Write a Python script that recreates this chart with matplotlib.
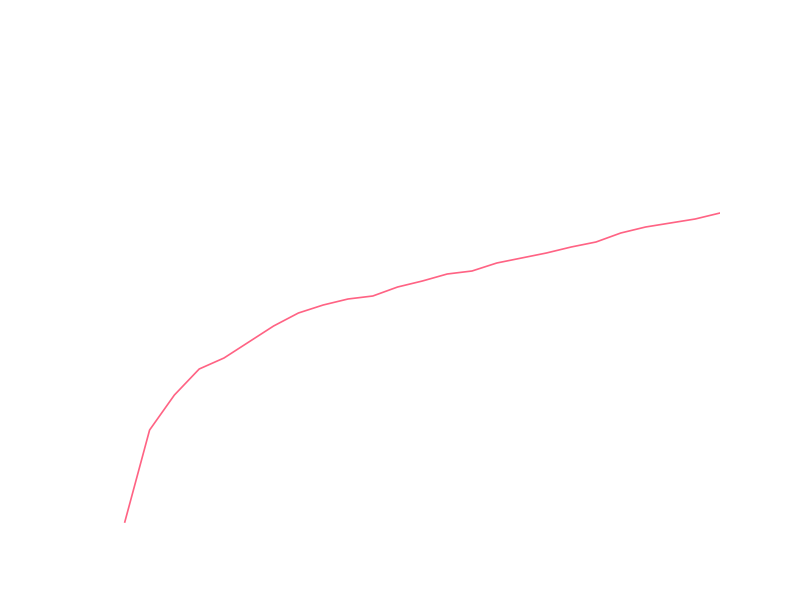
import matplotlib
matplotlib.use("Agg")
import matplotlib.pyplot as plt

steps = list(range(25))
values = [78, 170, 205, 231, 242, 258, 274, 287, 295, 301, 304, 313, 319,
          326, 329, 337, 342, 347, 353, 358, 367, 373, 377, 381, 387]

fig = plt.figure(figsize=(8, 6), dpi=100)
ax = fig.add_axes([100 / 800, 0, 620 / 800, 1])
ax.plot(steps, values, color="#ff6384", linewidth=1.2)
ax.set_xlim(-1, 24)
ax.set_ylim(0, 600)
ax.axis("off")

fig.savefig("out.png", dpi=100)
